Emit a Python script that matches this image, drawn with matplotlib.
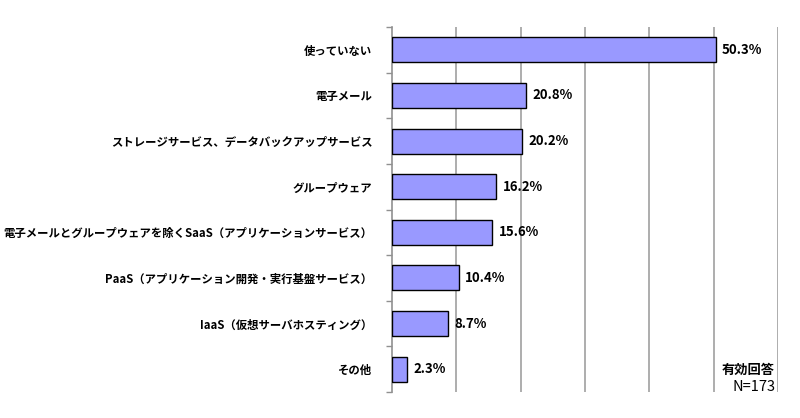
import matplotlib
matplotlib.use('Agg')
import matplotlib.pyplot as plt

plt.rcParams['font.family'] = ['Noto Sans CJK JP', 'DejaVu Sans']

categories = [
    '使っていない',
    '電子メール',
    'ストレージサービス、データバックアップサービス',
    'グループウェア',
    '電子メールとグループウェアを除くSaaS（アプリケーションサービス）',
    'PaaS（アプリケーション開発・実行基盤サービス）',
    'IaaS（仮想サーバホスティング）',
    'その他',
]
values = [50.3, 20.8, 20.2, 16.2, 15.6, 10.4, 8.7, 2.3]
n_label = 'N=173'

fig = plt.figure(figsize=(8.0, 4.18), dpi=100)
ax = fig.add_axes([392 / 800, 1 - 392 / 418, 386 / 800, 365 / 418])

y = list(range(len(categories)))
ax.barh(y, values, height=0.55, color='#9999ff', edgecolor='black', linewidth=1.0, zorder=3)

for yi, v in zip(y, values):
    ax.text(v + 1.0, yi, f'{v:.1f}%', va='center', ha='left',
            fontsize=9.5, fontweight='bold', zorder=4)

ax.set_xlim(0, 60)
ax.set_ylim(len(categories) - 0.5, -0.5)
ax.set_xticks(range(10, 61, 10))
ax.xaxis.grid(True, color='#a0a0a0', linewidth=1.2, zorder=0)
ax.tick_params(axis='x', length=0, labelbottom=False)

# boundary ticks on the left spine, labels centred between them
ax.set_yticks([i - 0.5 for i in range(len(categories) + 1)], minor=False)
ax.set_yticklabels([])
ax.set_yticks(y, minor=True)
ax.set_yticklabels(categories, minor=True, fontsize=8.2, fontweight='bold')
ax.tick_params(axis='y', which='major', length=4, color='#909090', width=1)
ax.tick_params(axis='y', which='minor', length=0, pad=14)

for s in ['top', 'right', 'bottom']:
    ax.spines[s].set_visible(False)
ax.spines['left'].set_color('#909090')
ax.spines['left'].set_linewidth(1.2)

fig.text(775 / 800, 1 - 370 / 418, '有効回答', ha='right', va='center',
         fontsize=9.5, fontweight='bold')
fig.text(775 / 800, 1 - 387 / 418, n_label, ha='right', va='center', fontsize=10.5)

fig.savefig('out.png', dpi=100)
